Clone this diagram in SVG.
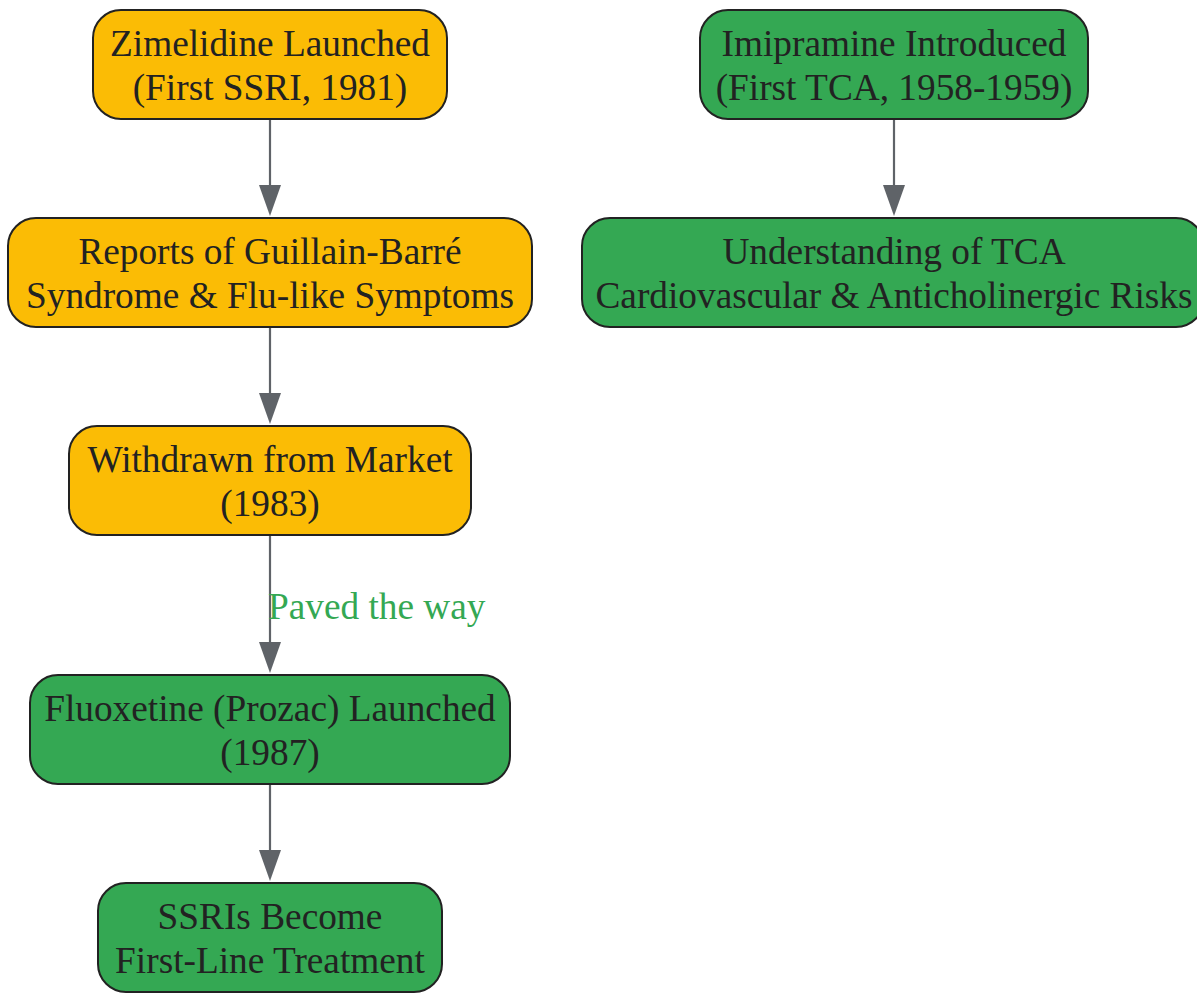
<svg xmlns="http://www.w3.org/2000/svg" width="1197" height="993" viewBox="0 0 1197 993">
<style>
.n rect{stroke:#222;stroke-width:2}
.o rect{fill:#FBBC05}
.g rect{fill:#34A853}
text{font-family:"Liberation Serif","Times New Roman",serif;font-size:37.3px;fill:#222;text-anchor:middle}
.e line{stroke:#5f6368;stroke-width:2.2}
.e path{fill:#5f6368}
.lbl{fill:#34A853;text-anchor:start}
</style>
<g class="e">
<line x1="270" y1="119" x2="270" y2="185"/><path d="M259,185 L281,185 L270,216 Z"/>
<line x1="270" y1="327" x2="270" y2="393"/><path d="M259,393 L281,393 L270,424 Z"/>
<line x1="270" y1="535" x2="270" y2="642"/><path d="M259,642 L281,642 L270,673 Z"/>
<line x1="270" y1="784" x2="270" y2="850"/><path d="M259,850 L281,850 L270,881 Z"/>
<line x1="894" y1="119" x2="894" y2="185"/><path d="M883,185 L905,185 L894,216 Z"/>
<text class="lbl" x="268" y="619">Paved the way</text>
</g>
<g id="n1" class="n o"><rect x="93" y="10" width="354" height="109" rx="28"/><text x="270" y="56">Zimelidine Launched</text><text x="270" y="100">(First SSRI, 1981)</text></g>
<g id="n2" class="n o"><rect x="8" y="218" width="524" height="109" rx="28"/><text x="270" y="264">Reports of Guillain-Barré</text><text x="270" y="308">Syndrome &amp; Flu-like Symptoms</text></g>
<g id="n3" class="n o"><rect x="69" y="426" width="402" height="109" rx="28"/><text x="270" y="472">Withdrawn from Market</text><text x="270" y="516">(1983)</text></g>
<g id="n4" class="n g"><rect x="30" y="675" width="480" height="109" rx="28"/><text x="270" y="721">Fluoxetine (Prozac) Launched</text><text x="270" y="765">(1987)</text></g>
<g id="n5" class="n g"><rect x="98" y="883" width="344" height="109" rx="28"/><text x="270" y="929">SSRIs Become</text><text x="270" y="973">First-Line Treatment</text></g>
<g id="n6" class="n g"><rect x="700" y="10" width="388" height="109" rx="28"/><text x="894" y="56">Imipramine Introduced</text><text x="894" y="100">(First TCA, 1958-1959)</text></g>
<g id="n7" class="n g"><rect x="582" y="218" width="622" height="109" rx="28"/><text x="894" y="264">Understanding of TCA</text><text x="894" y="308">Cardiovascular &amp; Anticholinergic Risks</text></g>
</svg>
